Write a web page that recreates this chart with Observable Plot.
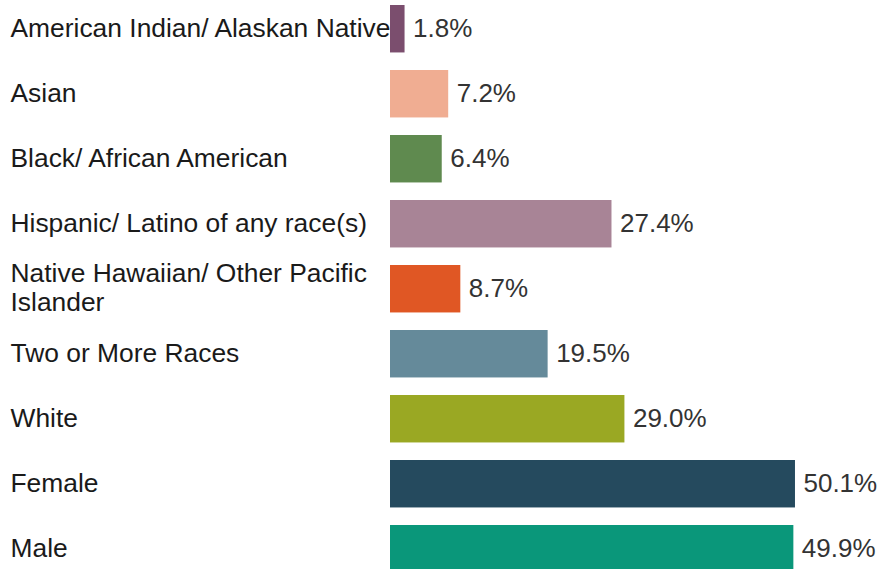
<!DOCTYPE html>
<html>
<head>
<meta charset="utf-8">
<script src="https://cdn.jsdelivr.net/npm/d3@7"></script>
<script src="https://cdn.jsdelivr.net/npm/@observablehq/plot@0.6"></script>
<style>
  html, body { margin: 0; padding: 0; background: #fff; }
</style>
</head>
<body>
<div id="chart"></div>
<script>
const categories = [
  "American Indian/ Alaskan Native",
  "Asian",
  "Black/ African American",
  "Hispanic/ Latino of any race(s)",
  "Native Hawaiian/ Other Pacific Islander",
  "Two or More Races",
  "White",
  "Female",
  "Male"
];
const tickLabels = [
  "American Indian/ Alaskan Native",
  "Asian",
  "Black/ African American",
  "Hispanic/ Latino of any race(s)",
  "Native Hawaiian/ Other Pacific\nIslander",
  "Two or More Races",
  "White",
  "Female",
  "Male"
];
const values = [1.8, 7.2, 6.4, 27.4, 8.7, 19.5, 29.0, 50.1, 49.9];
const colors = ["#7B4E6E", "#F0AD92", "#5F8A4F", "#A88496", "#E05724", "#658A9A", "#9AA823", "#254A5E", "#0A977A"];

const data = categories.map((c, i) => ({category: c, label: tickLabels[i], value: values[i], color: colors[i]}));

const chart = Plot.plot({
  width: 880,
  height: 569,
  marginLeft: 0,
  marginRight: 0,
  marginTop: 0,
  marginBottom: 0,
  style: {fontFamily: "'Liberation Sans', Arial, sans-serif", fontSize: "26px", background: "#fff", overflow: "hidden"},
  x: {domain: [0, 60], range: [390, 875], axis: null},
  y: {domain: categories, range: [-12.55, 590], padding: 0.27, round: false, axis: null},
  marks: [
    Plot.barX(data, {x: "value", y: "category", fill: "color"}),
    Plot.text(data, {x: "value", y: "category", text: d => d.value.toFixed(1) + "%", textAnchor: "start", dx: 8, dy: -1, fill: "#333", fontSize: 26}),
    Plot.text(data, {y: "category", text: "label", frameAnchor: "left", textAnchor: "start", dx: 10, dy: -2, fill: "#1a1a1a", fontSize: 26.4, lineHeight: 1.1})
  ]
});
document.getElementById("chart").appendChild(chart);
</script>
</body>
</html>
